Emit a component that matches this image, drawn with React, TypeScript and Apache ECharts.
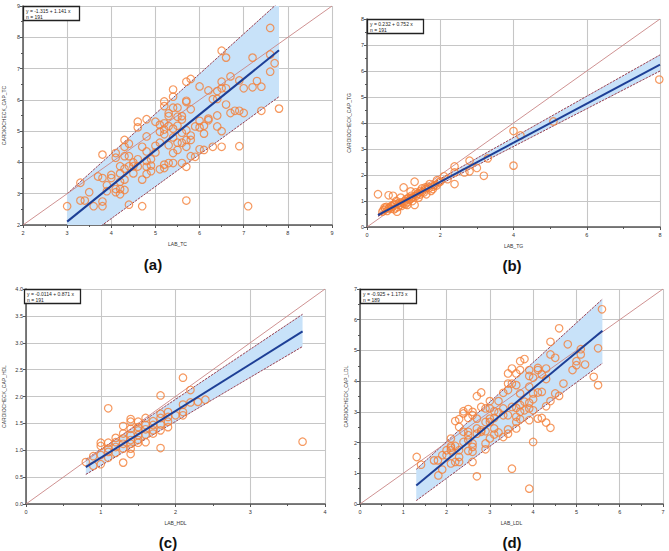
import React, { useEffect, useRef } from 'react';
import * as echarts from 'echarts';

// ---------- data ----------
const tcPoints: [number, number][] = [
  [3.0, 2.6], [3.3, 3.35], [3.3, 2.78], [3.4, 2.78], [3.5, 3.05], [3.6, 2.6], [3.7, 3.55], [3.8, 4.25], [3.8, 3.5], [3.8, 2.75],
  [3.8, 2.6], [3.9, 3.27], [3.9, 3.08], [4.0, 3.6], [4.0, 3.5], [4.1, 4.3], [4.1, 4.15], [4.1, 3.15], [4.1, 3.05], [4.2, 3.88],
  [4.2, 3.65], [4.2, 3.38], [4.2, 3.15], [4.2, 2.98], [4.3, 4.72], [4.3, 4.5], [4.3, 4.2], [4.3, 3.8], [4.3, 3.45], [4.3, 3.12],
  [4.4, 4.6], [4.4, 4.2], [4.4, 3.88], [4.4, 2.65], [4.5, 4.0], [4.5, 3.88], [4.5, 3.65], [4.6, 5.3], [4.6, 5.12], [4.6, 4.1],
  [4.6, 3.87], [4.7, 4.5], [4.7, 3.45], [4.7, 2.6], [4.8, 5.38], [4.8, 4.83], [4.8, 4.35], [4.8, 4.05], [4.8, 3.86], [4.8, 3.63],
  [4.9, 4.1], [4.9, 3.9], [4.9, 3.72], [5.0, 5.3], [5.0, 4.53], [5.0, 4.32], [5.1, 5.2], [5.1, 4.98], [5.1, 4.63], [5.1, 3.78],
  [5.2, 5.95], [5.2, 5.8], [5.2, 5.25], [5.2, 5.05], [5.2, 4.9], [5.2, 3.93], [5.2, 3.82], [5.3, 5.57], [5.3, 5.48], [5.3, 5.16],
  [5.3, 4.55], [5.3, 3.98], [5.4, 6.33], [5.4, 6.1], [5.4, 5.75], [5.4, 5.08], [5.4, 4.8], [5.4, 4.3], [5.4, 3.98], [5.5, 5.75],
  [5.5, 5.46], [5.5, 5.17], [5.5, 4.63], [5.5, 4.4], [5.6, 5.48], [5.6, 5.37], [5.6, 4.95], [5.6, 4.63], [5.6, 3.98], [5.7, 6.58],
  [5.7, 5.97], [5.7, 5.93], [5.7, 5.03], [5.7, 4.72], [5.7, 4.5], [5.7, 3.86], [5.7, 2.78], [5.8, 6.67], [5.8, 5.7], [5.8, 4.86],
  [5.8, 4.72], [5.8, 4.2], [5.9, 5.15], [5.9, 4.18], [6.0, 6.43], [6.0, 5.33], [6.0, 5.12], [6.0, 4.42], [6.1, 5.17], [6.1, 4.92],
  [6.1, 4.4], [6.2, 6.3], [6.2, 5.4], [6.2, 5.35], [6.3, 6.02], [6.3, 4.5], [6.4, 6.28], [6.4, 6.03], [6.4, 5.5], [6.4, 5.15],
  [6.5, 7.57], [6.5, 6.58], [6.5, 6.37], [6.5, 5.0], [6.5, 4.5], [6.6, 7.35], [6.6, 6.37], [6.6, 5.85], [6.7, 6.75], [6.7, 5.58],
  [6.8, 5.65], [6.9, 6.62], [6.9, 5.65], [6.9, 4.52], [7.0, 5.58], [7.0, 6.37], [7.1, 2.6], [7.2, 7.35], [7.2, 6.4], [7.3, 6.6],
  [7.4, 6.42], [7.4, 5.65], [7.6, 8.3], [7.6, 7.45], [7.6, 6.9], [7.7, 7.17], [7.8, 5.72],
];

const tgPoints: [number, number][] = [
  [0.3, 1.26], [0.42, 0.59], [0.45, 0.65], [0.48, 0.75], [0.5, 0.7], [0.53, 0.77], [0.55, 0.62], [0.59, 1.22], [0.6, 0.72], [0.62, 0.75],
  [0.65, 0.7], [0.66, 0.81], [0.7, 0.78], [0.71, 1.2], [0.72, 0.85], [0.74, 0.68], [0.75, 0.88], [0.78, 0.72], [0.8, 1.0], [0.82, 0.59],
  [0.85, 0.77], [0.86, 0.9], [0.89, 0.94], [0.9, 0.85], [0.92, 1.13], [0.94, 0.81], [0.96, 0.95], [1.0, 1.52], [1.0, 0.9], [1.03, 1.0],
  [1.05, 0.88], [1.07, 1.07], [1.1, 0.85], [1.1, 0.95], [1.14, 1.13], [1.15, 1.05], [1.19, 1.37], [1.2, 1.1], [1.21, 1.2], [1.24, 1.0],
  [1.25, 1.15], [1.3, 1.74], [1.3, 0.85], [1.33, 1.33], [1.35, 1.2], [1.37, 1.26], [1.4, 1.3], [1.41, 1.13], [1.45, 1.25], [1.46, 1.39],
  [1.5, 1.48], [1.5, 1.35], [1.55, 1.33], [1.59, 1.52], [1.6, 1.45], [1.62, 1.26], [1.66, 1.55], [1.7, 1.5], [1.71, 1.65], [1.75, 1.39],
  [1.8, 1.46], [1.8, 1.55], [1.85, 1.61], [1.9, 1.6], [1.91, 1.8], [1.96, 1.71], [2.0, 1.75], [2.1, 1.95], [2.2, 1.84], [2.39, 2.33],
  [2.39, 2.1], [2.39, 1.65], [2.66, 2.1], [2.8, 2.55], [2.8, 2.14], [3.0, 2.27], [3.19, 1.97], [3.3, 2.64], [4.0, 3.69], [4.0, 2.36],
  [4.19, 3.52], [5.09, 4.06], [7.98, 5.67],
];

const hdlPoints: [number, number][] = [
  [0.8, 0.78], [0.9, 0.89], [0.9, 0.71], [1.0, 1.14], [1.0, 1.08], [1.0, 0.91], [1.0, 0.74], [1.1, 1.78], [1.1, 1.14], [1.1, 1.03],
  [1.1, 0.97], [1.1, 0.86], [1.2, 1.23], [1.2, 1.15], [1.2, 1.06], [1.2, 0.95], [1.3, 1.45], [1.3, 1.31], [1.3, 1.22], [1.3, 1.12],
  [1.3, 1.03], [1.3, 0.77], [1.4, 1.58], [1.4, 1.53], [1.4, 1.4], [1.4, 1.28], [1.4, 1.19], [1.4, 1.12], [1.4, 1.03], [1.4, 0.93],
  [1.5, 1.53], [1.5, 1.43], [1.5, 1.37], [1.5, 1.28], [1.5, 1.19], [1.5, 1.14], [1.6, 1.6], [1.6, 1.47], [1.6, 1.39], [1.6, 1.29],
  [1.6, 1.15], [1.7, 1.54], [1.7, 1.47], [1.7, 1.37], [1.7, 1.31], [1.8, 2.02], [1.8, 1.68], [1.8, 1.6], [1.8, 1.48], [1.8, 1.37],
  [1.8, 1.04], [1.9, 1.71], [1.9, 1.62], [1.9, 1.53], [1.9, 1.43], [2.0, 1.65], [2.1, 2.35], [2.1, 1.85], [2.1, 1.71], [2.1, 1.65],
  [2.2, 2.12], [2.2, 1.89], [2.3, 1.9], [2.4, 1.94], [3.7, 1.16],
];

const ldlPoints: [number, number][] = [
  [1.31, 1.53], [1.41, 1.28], [1.71, 1.42], [1.8, 1.42], [1.81, 0.93], [1.9, 1.12], [1.9, 1.59], [2.0, 1.75], [2.0, 1.59], [2.1, 2.13],
  [2.1, 1.88], [2.1, 1.83], [2.1, 1.75], [2.1, 1.32], [2.2, 2.7], [2.2, 1.89], [2.2, 1.37], [2.29, 2.76], [2.29, 2.51], [2.29, 1.75],
  [2.29, 1.53], [2.29, 1.37], [2.39, 3.02], [2.39, 2.95], [2.39, 2.35], [2.39, 2.02], [2.5, 3.09], [2.5, 2.8], [2.5, 2.35], [2.5, 2.24],
  [2.5, 2.08], [2.5, 1.73], [2.6, 3.0], [2.6, 2.89], [2.6, 1.97], [2.6, 1.86], [2.6, 1.7], [2.6, 1.37], [2.7, 3.51], [2.7, 2.78],
  [2.7, 2.46], [2.7, 2.29], [2.7, 0.9], [2.8, 3.63], [2.8, 3.16], [2.8, 2.4], [2.8, 2.35], [2.9, 3.11], [2.9, 2.67], [2.9, 2.37],
  [2.9, 1.97], [2.9, 1.78], [3.0, 3.35], [3.0, 3.11], [3.0, 2.78], [3.0, 2.67], [3.0, 2.13], [3.1, 3.02], [3.1, 2.8], [3.1, 2.46],
  [3.1, 2.26], [3.2, 3.35], [3.2, 2.98], [3.2, 2.33], [3.31, 3.62], [3.31, 3.11], [3.31, 2.89], [3.31, 2.18], [3.42, 4.25], [3.42, 3.92],
  [3.42, 3.71], [3.42, 2.89], [3.42, 2.43], [3.42, 2.29], [3.51, 4.41], [3.51, 3.92], [3.51, 3.16], [3.51, 1.15], [3.61, 4.25], [3.61, 3.87],
  [3.61, 3.13], [3.61, 2.84], [3.61, 2.67], [3.61, 2.46], [3.7, 4.65], [3.7, 4.36], [3.7, 3.6], [3.7, 3.22], [3.7, 3.0], [3.7, 2.76],
  [3.8, 4.72], [3.8, 3.33], [3.8, 3.05], [3.91, 4.36], [3.91, 4.17], [3.91, 3.82], [3.91, 3.3], [3.91, 3.11], [3.91, 2.73], [3.91, 0.5],
  [4.0, 4.11], [4.0, 3.6], [4.0, 3.41], [4.0, 3.05], [4.0, 2.02], [4.11, 4.43], [4.11, 4.36], [4.11, 3.63], [4.11, 2.78], [4.2, 4.22],
  [4.2, 3.65], [4.2, 2.8], [4.3, 4.41], [4.3, 4.07], [4.3, 3.18], [4.3, 2.65], [4.4, 5.28], [4.4, 4.87], [4.4, 3.35], [4.4, 2.48],
  [4.51, 4.76], [4.51, 3.6], [4.6, 5.72], [4.6, 3.52], [4.7, 3.92], [4.8, 5.2], [4.91, 4.36], [5.0, 4.65], [5.0, 4.52], [5.1, 5.04],
  [5.1, 4.87], [5.2, 4.54], [5.4, 4.14], [5.5, 5.07], [5.5, 3.87], [5.59, 6.34],
];

// band (confidence) end points: x range, upper and lower limits
const tcBandX = [3, 7.8];
const tcUpper = [3.0, 9.13];
const tcLower = [1.18, 6.1];
const tgBandX = [0.3, 8];
const tgUpper = [0.5, 6.62];
const tgLower = [0.41, 6.0];
const hdlBandX = [0.8, 3.7];
const hdlUpper = [0.83, 3.53];
const hdlLower = [0.55, 2.93];
const ldlBandX = [1.3, 5.6];
const ldlUpper = [1.13, 6.67];
const ldlLower = [0.11, 4.58];

const intercepts = [-1.315, 0.232, -0.0114, -0.925];
const slopes = [1.141, 0.752, 0.871, 1.173];
const equations = ['y = -1.315 + 1.141 x', 'y = 0.232 + 0.752 x', 'y = -0.0114 + 0.871 x', 'y = -0.925 + 1.173 x'];
const nLabels = ['n = 191', 'n = 191', 'n = 191', 'n = 189'];
const xNames = ['LAB_TC', 'LAB_TG', 'LAB_HDL', 'LAB_LDL'];
const yNames = ['CARDIOCHECK_CAP_TC', 'CARDIOCHECK_CAP_TG', 'CARDIOCHECK_CAP_HDL', 'CARDIOCHECK_CAP_LDL'];
const captions = ['(a)', '(b)', '(c)', '(d)'];
const xRanges = [[2, 9, 1], [0, 8, 2], [0, 4, 1], [0, 7, 1]];
const yRanges = [[2, 9, 1], [0, 8, 1], [0, 4, 0.5], [0, 7, 1]];

// ---------- layout ----------
const grids = [
  { left: 23, top: 6, width: 309, height: 219 },
  { left: 367, top: 19, width: 293, height: 208 },
  { left: 24, top: 289, width: 301, height: 215 },
  { left: 360, top: 289, width: 303, height: 215 },
];
const yNameGaps = [17, 16, 20, 12];
const captionPos = [[153, 264], [512, 265], [168, 542], [512, 542]];

const ORANGE = '#f47f38';
const BAND = '#c8e2f9';
const BAND_EDGE = '#8e2d3e';
const IDENT = '#c98686';
const FIT = '#1d3f96';
const FONT = 'Liberation Sans, Arial, sans-serif';

function clipPolygonY(pts: number[][], yMin: number, yMax: number): number[][] {
  const clip = (poly: number[][], inside: (p: number[]) => boolean, yc: number) => {
    const out: number[][] = [];
    for (let i = 0; i < poly.length; i++) {
      const a = poly[i];
      const b = poly[(i + 1) % poly.length];
      const ia = inside(a), ib = inside(b);
      if (ia) out.push(a);
      if (ia !== ib) {
        const t = (yc - a[1]) / (b[1] - a[1]);
        out.push([a[0] + t * (b[0] - a[0]), yc]);
      }
    }
    return out;
  };
  let p = clip(pts, (q) => q[1] >= yMin, yMin);
  p = clip(p, (q) => q[1] <= yMax, yMax);
  return p;
}

export default function App() {
  const ref = useRef<HTMLDivElement>(null);
  useEffect(() => {
    if (!ref.current) return;
    const chart = echarts.init(ref.current, null, { renderer: 'svg' });
    const pointsAll = [tcPoints, tgPoints, hdlPoints, ldlPoints];
    const bandX = [tcBandX, tgBandX, hdlBandX, ldlBandX];
    const bandU = [tcUpper, tgUpper, hdlUpper, ldlUpper];
    const bandL = [tcLower, tgLower, hdlLower, ldlLower];

    const axisCommon = {
      type: 'value' as const,
      axisLine: { show: true, onZero: false, lineStyle: { color: '#555', width: 1.5 } },
      axisTick: { show: true, length: 3, lineStyle: { color: '#555', width: 1 } },
      minorTick: { show: true, splitNumber: 2, length: 2, lineStyle: { color: '#555', width: 1 } },
      splitLine: { show: true, lineStyle: { color: '#c6c6c6', width: 1.1 } },
      axisLabel: { fontSize: 5.5, color: '#333', fontFamily: FONT, showMinLabel: true, showMaxLabel: true },
      nameTextStyle: { fontSize: 5, color: '#333', fontFamily: FONT },
      nameLocation: 'middle' as const,
    };

    const xAxis = grids.map((_, i) => ({
      ...axisCommon,
      gridIndex: i,
      min: xRanges[i][0], max: xRanges[i][1], interval: xRanges[i][2],
      name: xNames[i], nameGap: 16,
      axisLabel: { ...axisCommon.axisLabel, margin: 5 },
    }));
    const yAxis = grids.map((_, i) => ({
      ...axisCommon,
      gridIndex: i,
      min: yRanges[i][0], max: yRanges[i][1], interval: yRanges[i][2],
      name: yNames[i], nameGap: yNameGaps[i],
      minorTick: { ...axisCommon.minorTick, show: i !== 2 },
      axisLabel: {
        ...axisCommon.axisLabel, margin: 3,
        formatter: (v: number) => (i === 2 ? v.toFixed(1) : String(v)),
      },
    }));

    const series: any[] = [];
    grids.forEach((_, i) => {
      const bx = bandX[i], bu = bandU[i], bl = bandL[i];
      const yMin = yRanges[i][0], yMax = yRanges[i][1];
      series.push({
        type: 'custom', xAxisIndex: i, yAxisIndex: i, silent: true, z: 1,
        data: [[bx[0], bl[0]]],
        renderItem: (_p: any, api: any) => {
          const poly = clipPolygonY([[bx[0], bl[0]], [bx[1], bl[1]], [bx[1], bu[1]], [bx[0], bu[0]]], yMin, yMax);
          return { type: 'polygon', shape: { points: poly.map((q) => api.coord(q)) }, style: { fill: BAND } };
        },
      });
      series.push({
        type: 'line', xAxisIndex: i, yAxisIndex: i, symbol: 'none', silent: true, z: 2,
        data: [[bx[0], bl[0]], [bx[1], bl[1]]],
        lineStyle: { color: BAND_EDGE, width: 0.9, type: [2.5, 1] },
      });
      series.push({
        type: 'line', xAxisIndex: i, yAxisIndex: i, symbol: 'none', silent: true, z: 2,
        data: [[bx[0], bu[0]], [bx[1], bu[1]]],
        lineStyle: { color: BAND_EDGE, width: 0.9, type: [2.5, 1] },
      });
      series.push({
        type: 'line', xAxisIndex: i, yAxisIndex: i, symbol: 'none', silent: true, z: 2,
        data: [[xRanges[i][0], xRanges[i][0]], [xRanges[i][1], xRanges[i][1]]],
        lineStyle: { color: IDENT, width: 0.9 },
      });
      series.push({
        type: 'scatter', xAxisIndex: i, yAxisIndex: i, z: 3,
        data: pointsAll[i], symbol: 'circle', symbolSize: 7.5,
        itemStyle: { color: 'rgba(255,255,255,0)', borderColor: ORANGE, borderWidth: 1.2 },
      });
      series.push({
        type: 'line', xAxisIndex: i, yAxisIndex: i, symbol: 'none', silent: true, z: 4,
        data: bx.map((x) => [x, intercepts[i] + slopes[i] * x]),
        lineStyle: { color: FIT, width: 2 },
      });
    });

    const graphic: any[] = [];
    grids.forEach((g, i) => {
      graphic.push({
        type: 'rect', z: 100,
        shape: { x: g.left + 0.5, y: g.top + 0.5, width: 56, height: 14 },
        style: { fill: '#fff', stroke: '#222', lineWidth: 1.3 },
      });
      graphic.push({
        type: 'text', z: 101, x: g.left + 3, y: g.top + 2.5,
        style: { text: equations[i] + '\n' + nLabels[i], fontSize: 5, lineHeight: 5.5, fill: '#222', fontFamily: FONT },
      });
      graphic.push({
        type: 'text', z: 101, x: captionPos[i][0], y: captionPos[i][1],
        style: { text: captions[i], fontSize: 15, fontWeight: 'bold', fill: '#111', fontFamily: FONT, align: 'center', verticalAlign: 'middle' },
      });
    });

    chart.setOption({
      animation: false,
      backgroundColor: '#fff',
      grid: grids.map((g) => ({ ...g, containLabel: false })),
      xAxis, yAxis, series, graphic,
    });
    return () => chart.dispose();
  }, []);
  return <div ref={ref} style={{ position: 'absolute', left: 0, top: 0, width: 669, height: 551 }} />;
}
